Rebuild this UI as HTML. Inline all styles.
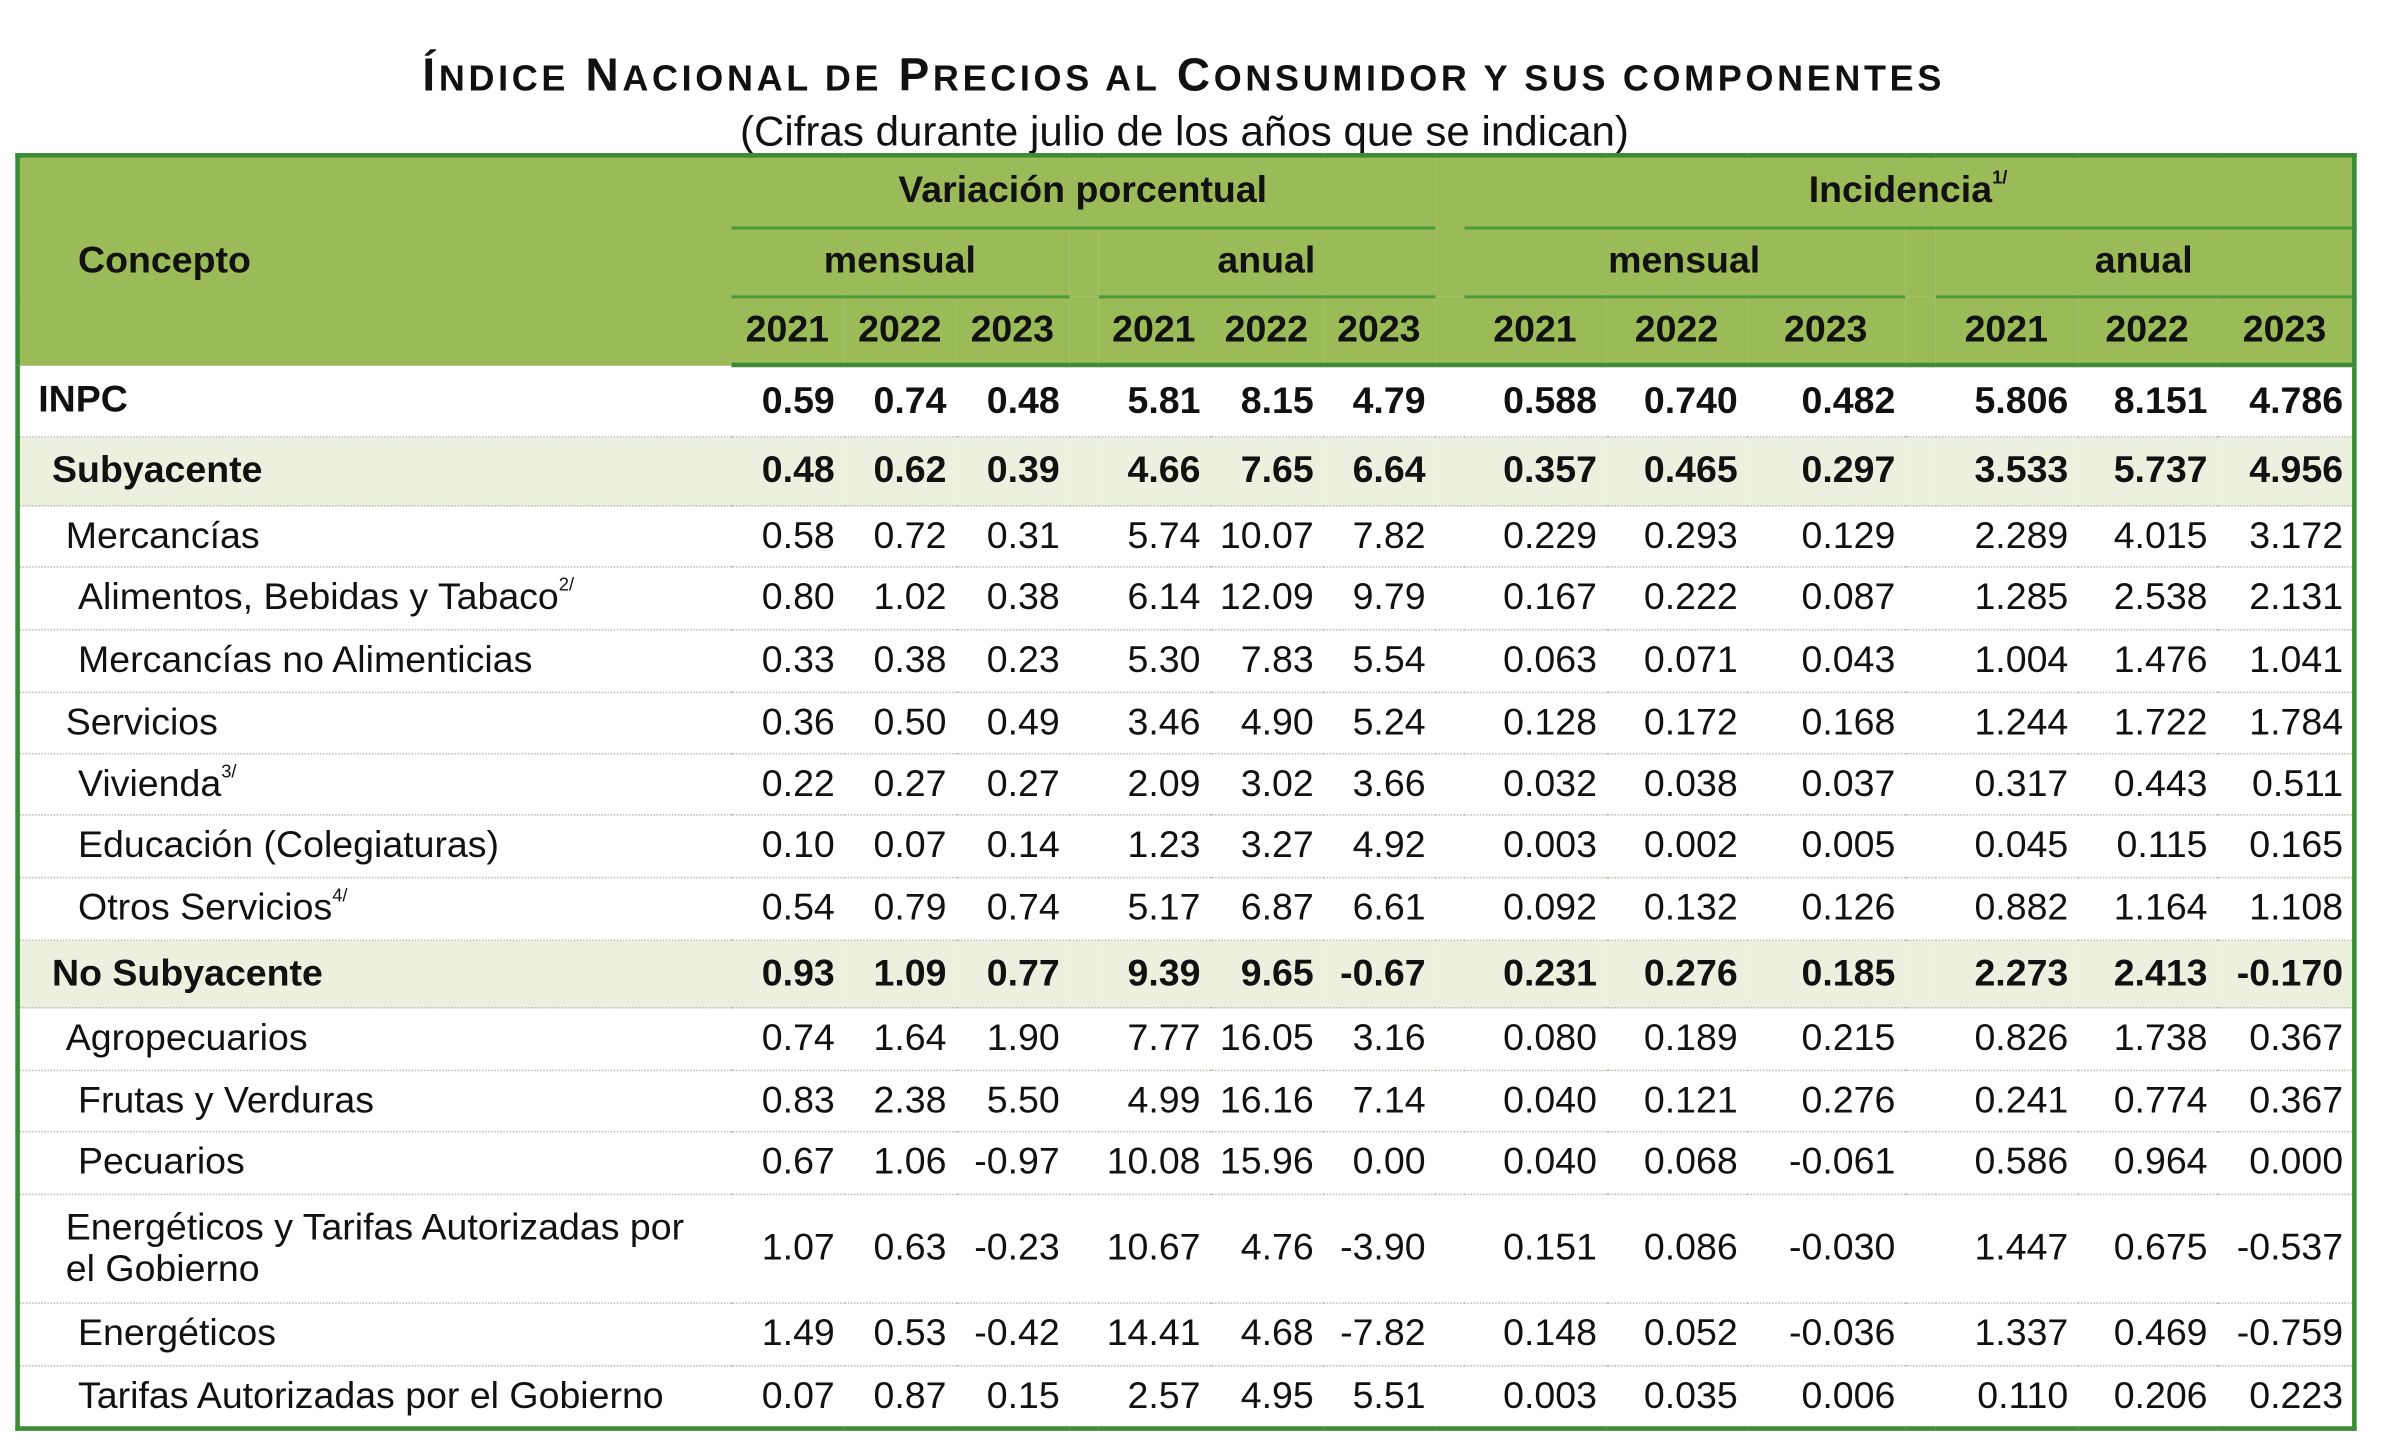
<!DOCTYPE html>
<html><head><meta charset="utf-8">
<style>
html,body{margin:0;padding:0;background:#fff;width:2398px;height:1440px;overflow:hidden}
#w{position:absolute;left:0;top:0;width:1567px;height:941px;transform:scale(1.5303);transform-origin:0 0;font-family:"Liberation Sans",Arial,sans-serif;color:#111}
.t1{position:absolute;top:33px;left:0;width:1547px;text-align:center;font-weight:bold;font-size:30px;white-space:nowrap;letter-spacing:2.4px}
.t1 .s{font-size:23.5px}
.t2{position:absolute;top:70px;left:0;width:1548px;text-align:center;font-size:27.5px}
table{position:absolute;left:10px;top:100px;border-collapse:collapse;table-layout:fixed;width:1527px;border:3px solid #3d8b37}
td{padding:0 6px 0 0;font-size:24.5px;text-align:right;white-space:nowrap;overflow:visible}
thead td{background:#9bbb59;font-weight:bold;text-align:center;padding:0;color:#111}
thead tr.r3 td{border-bottom:3px solid #3d8b37}
.ul{border-bottom:2px solid #4a9a3c}
tbody td{border-bottom:1px dotted #bdbdb0}
tbody td.l{text-align:left;padding-left:12px}
tr.b td{font-weight:bold}
tr.s td{background:#ebf1de}
sup{font-size:12px;vertical-align:top;position:relative;top:-2px}
td.lc{text-align:left;padding-left:38px}
</style></head><body><div id="w">
<div class="t1">Í<span class="s">NDICE</span> N<span class="s">ACIONAL DE</span> P<span class="s">RECIOS AL</span> C<span class="s">ONSUMIDOR Y SUS COMPONENTES</span></div>
<div class="t2">(Cifras durante julio de los años que se indican)</div>
<table>
<colgroup><col style="width:466px"><col style="width:74px"><col style="width:73px"><col style="width:74px"><col style="width:19px"><col style="width:73px"><col style="width:74px"><col style="width:73px"><col style="width:19px"><col style="width:93px"><col style="width:92px"><col style="width:103px"><col style="width:20px"><col style="width:93px"><col style="width:91px"><col style="width:90px"></colgroup>
<thead>
<tr style="height:47px"><td rowspan="3" class="lc">Concepto</td><td colspan="7" class="ul">Variación porcentual</td><td></td><td colspan="7" class="ul">Incidencia<sup>1/</sup></td></tr>
<tr style="height:45px"><td colspan="3" class="ul">mensual</td><td></td><td colspan="3" class="ul">anual</td><td></td><td colspan="3" class="ul">mensual</td><td></td><td colspan="3" class="ul">anual</td></tr>
<tr style="height:45px" class="r3"><td>2021</td><td>2022</td><td>2023</td><td></td><td>2021</td><td>2022</td><td>2023</td><td></td><td>2021</td><td>2022</td><td>2023</td><td></td><td>2021</td><td>2022</td><td>2023</td></tr>
</thead>
<tbody>
<tr class="b" style="height:47px"><td class="l">INPC</td><td>0.59</td><td>0.74</td><td>0.48</td><td></td><td>5.81</td><td>8.15</td><td>4.79</td><td></td><td>0.588</td><td>0.740</td><td>0.482</td><td></td><td>5.806</td><td>8.151</td><td>4.786</td></tr>
<tr class="b s" style="height:45px"><td class="l" style="padding-left:21px">Subyacente</td><td>0.48</td><td>0.62</td><td>0.39</td><td></td><td>4.66</td><td>7.65</td><td>6.64</td><td></td><td>0.357</td><td>0.465</td><td>0.297</td><td></td><td>3.533</td><td>5.737</td><td>4.956</td></tr>
<tr style="height:40px"><td class="l" style="padding-left:30px">Mercancías</td><td>0.58</td><td>0.72</td><td>0.31</td><td></td><td>5.74</td><td>10.07</td><td>7.82</td><td></td><td>0.229</td><td>0.293</td><td>0.129</td><td></td><td>2.289</td><td>4.015</td><td>3.172</td></tr>
<tr style="height:41px"><td class="l" style="padding-left:38px">Alimentos, Bebidas y Tabaco<sup>2/</sup></td><td>0.80</td><td>1.02</td><td>0.38</td><td></td><td>6.14</td><td>12.09</td><td>9.79</td><td></td><td>0.167</td><td>0.222</td><td>0.087</td><td></td><td>1.285</td><td>2.538</td><td>2.131</td></tr>
<tr style="height:41px"><td class="l" style="padding-left:38px">Mercancías no Alimenticias</td><td>0.33</td><td>0.38</td><td>0.23</td><td></td><td>5.30</td><td>7.83</td><td>5.54</td><td></td><td>0.063</td><td>0.071</td><td>0.043</td><td></td><td>1.004</td><td>1.476</td><td>1.041</td></tr>
<tr style="height:40px"><td class="l" style="padding-left:30px">Servicios</td><td>0.36</td><td>0.50</td><td>0.49</td><td></td><td>3.46</td><td>4.90</td><td>5.24</td><td></td><td>0.128</td><td>0.172</td><td>0.168</td><td></td><td>1.244</td><td>1.722</td><td>1.784</td></tr>
<tr style="height:40px"><td class="l" style="padding-left:38px">Vivienda<sup>3/</sup></td><td>0.22</td><td>0.27</td><td>0.27</td><td></td><td>2.09</td><td>3.02</td><td>3.66</td><td></td><td>0.032</td><td>0.038</td><td>0.037</td><td></td><td>0.317</td><td>0.443</td><td>0.511</td></tr>
<tr style="height:41px"><td class="l" style="padding-left:38px">Educación (Colegiaturas)</td><td>0.10</td><td>0.07</td><td>0.14</td><td></td><td>1.23</td><td>3.27</td><td>4.92</td><td></td><td>0.003</td><td>0.002</td><td>0.005</td><td></td><td>0.045</td><td>0.115</td><td>0.165</td></tr>
<tr style="height:41px"><td class="l" style="padding-left:38px">Otros Servicios<sup>4/</sup></td><td>0.54</td><td>0.79</td><td>0.74</td><td></td><td>5.17</td><td>6.87</td><td>6.61</td><td></td><td>0.092</td><td>0.132</td><td>0.126</td><td></td><td>0.882</td><td>1.164</td><td>1.108</td></tr>
<tr class="b s" style="height:44px"><td class="l" style="padding-left:21px">No Subyacente</td><td>0.93</td><td>1.09</td><td>0.77</td><td></td><td>9.39</td><td>9.65</td><td>-0.67</td><td></td><td>0.231</td><td>0.276</td><td>0.185</td><td></td><td>2.273</td><td>2.413</td><td>-0.170</td></tr>
<tr style="height:41px"><td class="l" style="padding-left:30px">Agropecuarios</td><td>0.74</td><td>1.64</td><td>1.90</td><td></td><td>7.77</td><td>16.05</td><td>3.16</td><td></td><td>0.080</td><td>0.189</td><td>0.215</td><td></td><td>0.826</td><td>1.738</td><td>0.367</td></tr>
<tr style="height:40px"><td class="l" style="padding-left:38px">Frutas y Verduras</td><td>0.83</td><td>2.38</td><td>5.50</td><td></td><td>4.99</td><td>16.16</td><td>7.14</td><td></td><td>0.040</td><td>0.121</td><td>0.276</td><td></td><td>0.241</td><td>0.774</td><td>0.367</td></tr>
<tr style="height:41px"><td class="l" style="padding-left:38px">Pecuarios</td><td>0.67</td><td>1.06</td><td>-0.97</td><td></td><td>10.08</td><td>15.96</td><td>0.00</td><td></td><td>0.040</td><td>0.068</td><td>-0.061</td><td></td><td>0.586</td><td>0.964</td><td>0.000</td></tr>
<tr style="height:71px"><td class="l" style="padding-left:30px;line-height:27px">Energéticos y Tarifas Autorizadas por<br>el Gobierno</td><td>1.07</td><td>0.63</td><td>-0.23</td><td></td><td>10.67</td><td>4.76</td><td>-3.90</td><td></td><td>0.151</td><td>0.086</td><td>-0.030</td><td></td><td>1.447</td><td>0.675</td><td>-0.537</td></tr>
<tr style="height:41px"><td class="l" style="padding-left:38px">Energéticos</td><td>1.49</td><td>0.53</td><td>-0.42</td><td></td><td>14.41</td><td>4.68</td><td>-7.82</td><td></td><td>0.148</td><td>0.052</td><td>-0.036</td><td></td><td>1.337</td><td>0.469</td><td>-0.759</td></tr>
<tr style="height:41px"><td class="l" style="padding-left:38px">Tarifas Autorizadas por el Gobierno</td><td>0.07</td><td>0.87</td><td>0.15</td><td></td><td>2.57</td><td>4.95</td><td>5.51</td><td></td><td>0.003</td><td>0.035</td><td>0.006</td><td></td><td>0.110</td><td>0.206</td><td>0.223</td></tr>
</tbody>
</table>
</div></body></html>
